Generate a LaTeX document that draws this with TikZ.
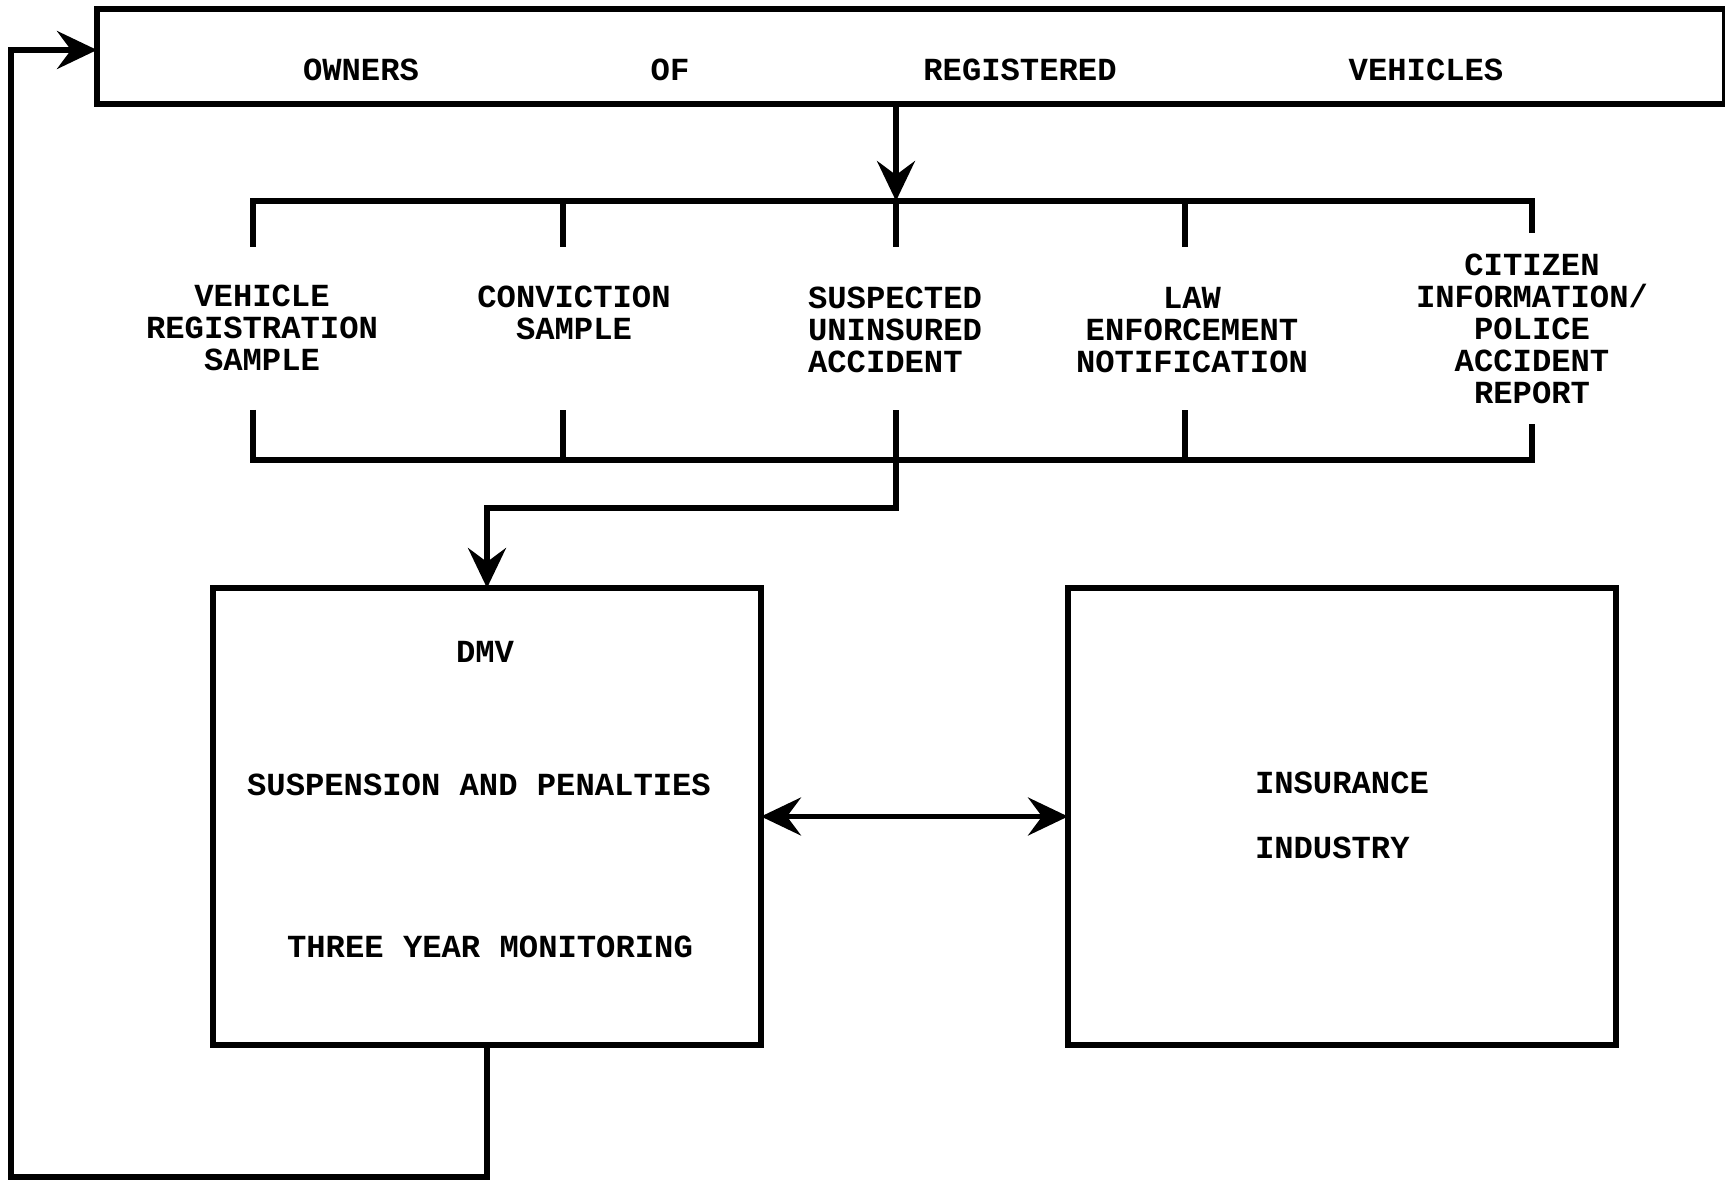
\documentclass[tikz,border=0pt]{standalone}
\usepackage{fontspec}
\setmonofont{Liberation Mono}
\usetikzlibrary{arrows.meta,positioning}

\begin{document}
\begin{tikzpicture}[x=0.5pt,y=-0.5pt,line width=2.6pt,
  >={Stealth[length=20pt,width=19pt,inset=7pt]},
  every node/.style={font=\ttfamily\bfseries\fontsize{16.1}{16}\selectfont, align=center, inner sep=0pt, outer sep=0pt},
  box/.style={draw, minimum width=274pt, minimum height=228.5pt}]

  \useasboundingbox (0,0) rectangle (1725,1181);

  % Owners
  \node(Owners)[draw, minimum width=814pt, minimum height=47.5pt] at (911,56.5) {};
  \node at (361,70) {OWNERS};
  \node at (670,70) {OF};
  \node at (1020,70) {REGISTERED};
  \node at (1426,70) {VEHICLES};

  % Sources
  \node(VReg) at (262,328) {VEHICLE\\REGISTRATION\\SAMPLE};
  \node(Conv) at (574,313) {CONVICTION\\SAMPLE};
  \node(Susp)[align=left] at (895,330) {SUSPECTED\\UNINSURED\\ACCIDENT};
  \node(Law) at (1192,330) {LAW\\ENFORCEMENT\\NOTIFICATION};
  \node(Cit) at (1532,329) {CITIZEN\\INFORMATION/\\POLICE\\ACCIDENT\\REPORT};

  \coordinate (Split) at (896,201);
  \coordinate (Merge) at (896,460);

  \draw (253,247) -- (253,201) -- (1532,201) -- (1532,233);
  \foreach \x in {563,896,1185} \draw (\x,201) -- (\x,247);
  \draw (253,410) -- (253,460) -- (1532,460) -- (1532,424);
  \foreach \x in {563,896,1185} \draw (\x,460) -- (\x,410);

  \draw[->] (Owners.south -| Split) -- (Split);

  % DMV and insurance
  \node(DMV)[box] at (487,816.5) {};
  \node(Ins)[box, right=153.5pt of DMV] {};

  \node at (485,652) {DMV};
  \node at (479,785) {SUSPENSION AND PENALTIES};
  \node at (490,947) {THREE YEAR MONITORING};

  \node[anchor=west] at (1255,783) {INSURANCE};
  \node[anchor=west] at (1255,848) {INDUSTRY};

  \draw[->] (Merge) -- (896,508) -| (DMV.north);
  \draw[<->] (DMV) -- (Ins);

  \coordinate (Back) at (11,1177);
  \coordinate (Ret) at (11,50);
  \draw[->] (DMV.south) |- (Back) -- (Ret) -- (Ret -| Owners.west);
\end{tikzpicture}
\end{document}
